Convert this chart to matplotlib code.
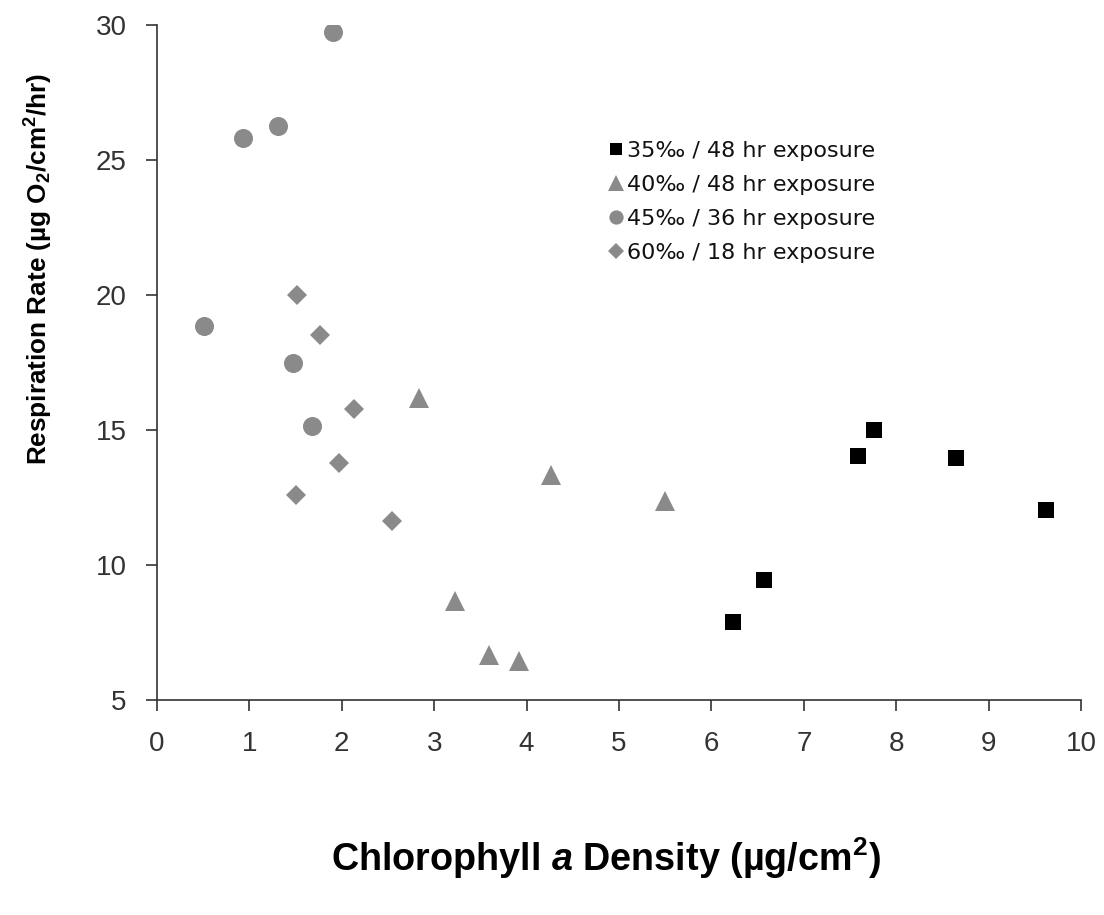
import matplotlib
matplotlib.use("Agg")
import matplotlib.pyplot as plt

# Chlorophyll a density (ug/cm2) vs respiration rate (ug O2/cm2/hr)
chl_35 = [6.23, 6.57, 7.59, 7.76, 8.65, 9.62]
resp_35 = [7.89, 9.44, 14.05, 15.0, 13.97, 12.04]

chl_40 = [2.84, 3.23, 3.59, 3.92, 4.26, 5.50]
resp_40 = [16.2, 8.68, 6.67, 6.46, 13.33, 12.38]

chl_45 = [0.51, 0.93, 1.31, 1.47, 1.68, 1.90]
resp_45 = [18.86, 25.83, 26.26, 17.49, 15.16, 29.73]

chl_60 = [1.50, 1.52, 1.76, 1.97, 2.13, 2.54]
resp_60 = [12.59, 20.01, 18.53, 13.79, 15.79, 11.64]

series_labels = ["35\u2030 / 48 hr exposure", "40\u2030 / 48 hr exposure",
                 "45\u2030 / 36 hr exposure", "60\u2030 / 18 hr exposure"]
x_ticks = list(range(0, 11))
y_ticks = [5, 10, 15, 20, 25, 30]

plt.rcParams['font.family'] = 'Liberation Sans'
plt.rcParams['mathtext.fontset'] = 'custom'
plt.rcParams['mathtext.rm'] = 'Liberation Sans:bold'
plt.rcParams['mathtext.bf'] = 'Liberation Sans:bold'
plt.rcParams['mathtext.it'] = 'Liberation Sans:bold:italic'

gray = '#8a8a8a'

fig = plt.figure(figsize=(11.04, 9.15), dpi=100)
ax = fig.add_axes([0.1422, 0.235, 0.837, 0.7377])

ax.plot(chl_35, resp_35, ls='none', marker='s', ms=11.5, color='black', mew=0, label=series_labels[0])
ax.plot(chl_40, resp_40, ls='none', marker='^', ms=15, color=gray, mew=0, label=series_labels[1])
ax.plot(chl_45, resp_45, ls='none', marker='o', ms=13.7, color=gray, mew=0, label=series_labels[2])
ax.plot(chl_60, resp_60, ls='none', marker='D', ms=10.5, color=gray, mew=0, label=series_labels[3])

ax.set_xlim(0, 10)
ax.set_ylim(5, 30)
ax.set_xticks(x_ticks)
ax.set_yticks(y_ticks)
for s in ['top', 'right']:
    ax.spines[s].set_visible(False)
for s in ['left', 'bottom']:
    ax.spines[s].set_color('#333333')
    ax.spines[s].set_linewidth(1.2)
ax.tick_params(axis='both', direction='out', length=8, width=1.2, color='#333333',
               labelsize=20, labelcolor='#333333', pad=14)

leg = ax.legend(loc='upper left', bbox_to_anchor=(0.481, 0.841), frameon=False,
                prop={'family': 'DejaVu Sans', 'size': 16},
                handlelength=0.55, handletextpad=0.2, labelspacing=0.63,
                markerscale=0.75, borderaxespad=0)
for t in leg.get_texts():
    t.set_color('#111111')

fig.text(0.549, 0.062, "Chlorophyll $a$ Density (\u00b5g/cm$^2$)",
         fontsize=27.2, fontweight='bold', ha='center', va='center')
fig.text(0.035, 0.706, "Respiration Rate (\u00b5g O$_2$/cm$^2$/hr)",
         fontsize=18.8, fontweight='bold', ha='center', va='center', rotation=90)

fig.savefig('out.png', dpi=100)
